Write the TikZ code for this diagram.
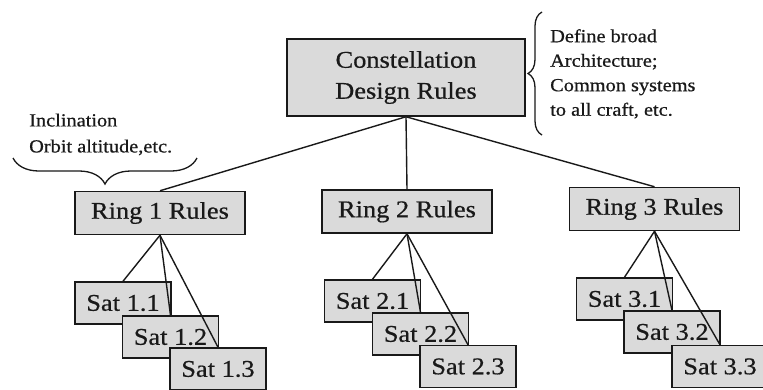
\documentclass[tikz,border=0pt]{standalone}
\usepackage{fontspec}
\setmainfont[FakeStretch=1.1,FakeBold=0.6]{Liberation Serif}
\usetikzlibrary{decorations.pathreplacing}
\definecolor{boxfill}{RGB}{218,218,218}
\definecolor{ink}{RGB}{25,25,25}
\tikzset{
  rulebox/.style={draw=ink, line width=1.5pt, fill=boxfill, rectangle, inner sep=0pt,
    font=\fontsize{24}{31}\selectfont, align=center, text=ink},
  ringbox/.style={rulebox, minimum width=170pt, minimum height=43pt},
  satbox/.style={rulebox, minimum width=96pt, minimum height=42pt},
  link/.style={draw=ink, line width=1.4pt},
  note/.style={font=\fontsize{18.5}{24.5}\selectfont, align=left, inner sep=0pt, anchor=north west, text=ink},
  bracestyle/.style={draw=ink, line width=1.3pt, decorate}
}
\begin{document}
\begin{tikzpicture}[x=1pt,y=-1pt]
\useasboundingbox (0,0) rectangle (763,389);
% top
\node[rulebox, minimum width=238pt, minimum height=77pt] (top) at (406,77.5) {Constellation\\Design Rules};
% rings
\node[ringbox] (r1) at (160,213) {Ring 1 Rules};
\node[ringbox] (r2) at (407,211.5) {Ring 2 Rules};
\node[ringbox] (r3) at (654.5,209) {Ring 3 Rules};
% sats
\node[satbox] (s11) at (123,303) {Sat 1.1};
\node[satbox] (s12) at (170.5,337) {Sat 1.2};
\node[satbox] (s13) at (218,369) {Sat 1.3};
\node[satbox] (s21) at (372.5,301) {Sat 2.1};
\node[satbox] (s22) at (420.5,334) {Sat 2.2};
\node[satbox] (s23) at (468,366.5) {Sat 2.3};
\node[satbox] (s31) at (624.5,299) {Sat 3.1};
\node[satbox] (s32) at (672,332) {Sat 3.2};
\node[satbox] (s33) at (720,366.5) {Sat 3.3};
% connectors
\draw[link] (top.south) -- (r1.north);
\draw[link] (top.south) -- (r2.north);
\draw[link] (top.south) -- (r3.north);
\foreach \r in {1,2,3}{
  \draw[link] (r\r.south) -- (s\r1.north);
  \draw[link] (r\r.south) -- (s\r2.north);
  \draw[link] (r\r.south) -- (s\r3.north);
}
% notes
\node[note] (nr) at (550,29) {Define broad\\Architecture;\\Common systems\\to all craft, etc.};
\node[note, font=\fontsize{18.5}{26}\selectfont] (nl) at (29,113.4) {Inclination\\Orbit altitude,etc.};
% braces
\coordinate (rb1) at (542,135);
\coordinate (rb2) at (542,12);
\draw[bracestyle, decoration={brace, amplitude=14pt}] (rb1) -- (rb2);
\coordinate (lb1) at (197,158);
\coordinate (lb2) at (13,158);
\draw[bracestyle, decoration={brace, amplitude=26pt}] (lb1) -- (lb2);
\end{tikzpicture}
\end{document}
